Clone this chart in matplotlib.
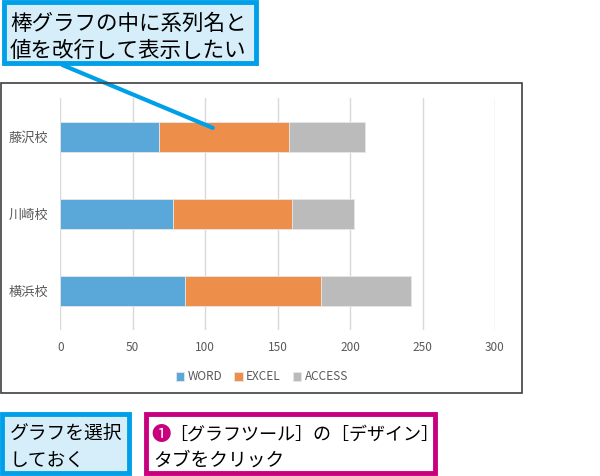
import matplotlib.pyplot as plt
from matplotlib.patches import Rectangle

# --- data (bottom to top, same order as the chart) ---
schools = ['横浜校', '川崎校', '藤沢校']
word = [86, 78, 68]
excel = [94, 82, 90]
access = [62, 43, 52]
series_names = ['WORD', 'EXCEL', 'ACCESS']
x_ticks = [0, 50, 100, 150, 200, 250, 300]

callout_top = '棒グラフの中に系列名と\n値を改行して表示したい'
callout_left = 'グラフを選択\nしておく'
callout_right_1 = '［グラフツール］の［デザイン］'
callout_right_2 = 'タブをクリック'

BLUE = '#00A0E9'
LIGHT_BLUE = '#D5EEFA'
MAGENTA = '#C8007E'
colors = ['#5AA7D9', '#ED8F4B', '#BBBBBB']

plt.rcParams['font.family'] = ['Noto Sans CJK JP', 'DejaVu Sans']

W, H = 600, 476
fig = plt.figure(figsize=(W / 100, H / 100), dpi=100)


def px(x, y, w, h):
    # pixel box (top-left origin) -> figure fraction rect
    return (x / W, 1 - (y + h) / H, w / W, h / H)


# chart frame
x0, y0, w0, h0 = px(1, 83, 521, 310)
fig.add_artist(Rectangle((x0, y0), w0, h0, transform=fig.transFigure,
                         fill=False, edgecolor='#404040', lw=1.2))

ax = fig.add_axes(px(60.3, 98, 434.7, 232))
left = [0, 0, 0]
for vals, name, c in zip([word, excel, access], series_names, colors):
    ax.barh(range(len(schools)), vals, left=left, height=0.39, color=c,
            edgecolor='#E6E6E6', linewidth=0.6, label=name, zorder=3)
    left = [a + b for a, b in zip(left, vals)]

ax.set_xlim(0, 300)
ax.set_ylim(-0.5, 2.5)
ax.set_xticks(x_ticks)
ax.set_yticks(range(len(schools)))
ax.set_yticklabels(schools)
ax.grid(axis='x', color='#D9D9D9', lw=1, zorder=0)
for s in ax.spines.values():
    s.set_visible(False)
ax.tick_params(length=0, colors='#595959', labelsize=8.5)
ax.tick_params(axis='x', pad=8)
ax.tick_params(axis='y', pad=8.5, labelsize=9.5)

ax.legend(loc='center', bbox_to_anchor=(262 / W, 1 - 377 / H),
          bbox_transform=fig.transFigure, ncol=3, frameon=False,
          fontsize=8.5, labelcolor='#595959', handlelength=0.7,
          handleheight=0.7, handletextpad=0.3, columnspacing=1.0)

# callout line from the top box into the chart
ax.annotate('', xy=(107, 2.1), xycoords='data',
            xytext=(60 / W, 1 - 64 / H), textcoords='figure fraction',
            arrowprops=dict(arrowstyle='-', color=BLUE, lw=3))

# top box
bx = px(4, 2, 252, 61)
fig.add_artist(Rectangle(bx[:2], bx[2], bx[3], transform=fig.transFigure,
                         facecolor=LIGHT_BLUE, edgecolor=BLUE, lw=3.5))
fig.text(10 / W, 1 - 37 / H, callout_top, fontsize=15.5, va='center',
         ha='left', linespacing=1.3)

# bottom-left box
bx = px(2, 414, 127, 59)
fig.add_artist(Rectangle(bx[:2], bx[2], bx[3], transform=fig.transFigure,
                         facecolor=LIGHT_BLUE, edgecolor=BLUE, lw=3.5))
fig.text(10 / W, 1 - 447 / H, callout_left, fontsize=13.5, va='center',
         ha='left', linespacing=1.4)

# bottom-right box
bx = px(146, 414, 289, 59)
fig.add_artist(Rectangle(bx[:2], bx[2], bx[3], transform=fig.transFigure,
                         facecolor='white', edgecolor=MAGENTA, lw=3.5))
fig.text(151 / W, 1 - 434 / H, '❶', fontsize=14, color=MAGENTA,
         va='center', ha='left')
fig.text(169 / W, 1 - 435 / H, callout_right_1, fontsize=13, va='center',
         ha='left')
fig.text(153 / W, 1 - 460 / H, callout_right_2, fontsize=13.5, va='center',
         ha='left')

fig.savefig('out.png', dpi=100)
